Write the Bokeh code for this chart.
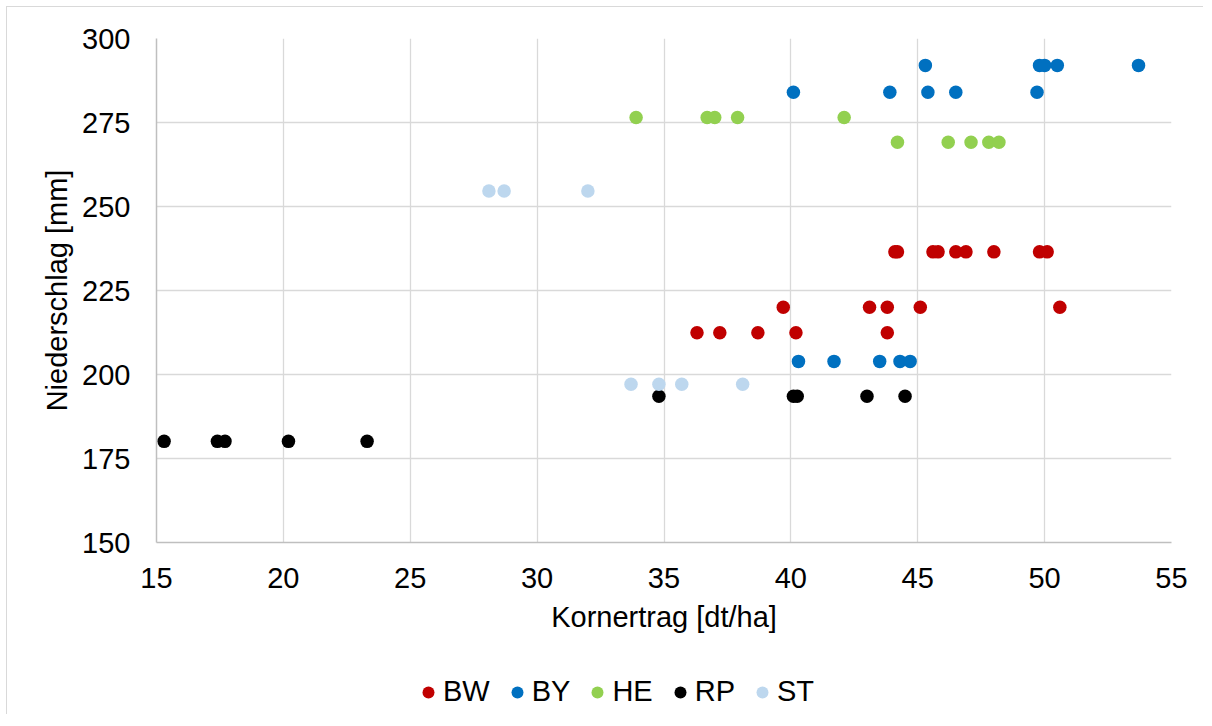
from bokeh.plotting import figure
from bokeh.layouts import column
from bokeh.models import Range1d, FixedTicker, Legend, LegendItem
from bokeh.embed import file_html
from bokeh.resources import INLINE

# ---- data ----
states = ["BW", "BY", "HE", "RP", "ST"]
colors = ["#C00000", "#0070C0", "#92D050", "#000000", "#BDD7EE"]

bw_x = [44.1, 44.2, 45.6, 45.8, 46.5, 46.9, 48.0, 49.8, 50.1,
        39.7, 43.1, 43.8, 45.1, 50.6,
        36.3, 37.2, 38.7, 40.2, 43.8]
bw_y = [236.5, 236.5, 236.5, 236.5, 236.5, 236.5, 236.5, 236.5, 236.5,
        220.0, 220.0, 220.0, 220.0, 220.0,
        212.4, 212.4, 212.4, 212.4, 212.4]

by_x = [45.3, 49.8, 50.0, 50.5, 53.7,
        40.1, 43.9, 45.4, 46.5, 49.7,
        40.3, 41.7, 43.5, 44.3, 44.7]
by_y = [292.0, 292.0, 292.0, 292.0, 292.0,
        284.0, 284.0, 284.0, 284.0, 284.0,
        203.9, 203.9, 203.9, 203.9, 203.9]

he_x = [33.9, 36.7, 37.0, 37.9, 42.1,
        44.2, 46.2, 47.1, 47.8, 48.2]
he_y = [276.5, 276.5, 276.5, 276.5, 276.5,
        269.1, 269.1, 269.1, 269.1, 269.1]

rp_x = [34.8, 40.1, 40.25, 43.0, 44.5,
        15.3, 17.4, 17.7, 20.2, 23.3]
rp_y = [193.5, 193.5, 193.5, 193.5, 193.5,
        180.1, 180.1, 180.1, 180.1, 180.1]

st_x = [28.1, 28.7, 32.0,
        33.7, 34.8, 35.7, 38.1]
st_y = [254.6, 254.6, 254.6,
        197.1, 197.1, 197.1, 197.1]

x_ticks = [15, 20, 25, 30, 35, 40, 45, 50, 55]
y_ticks = [150, 175, 200, 225, 250, 275, 300]
x_title = "Kornertrag [dt/ha]"
y_title = "Niederschlag [mm]"

series_x = [bw_x, by_x, he_x, rp_x, st_x]
series_y = [bw_y, by_y, he_y, rp_y, st_y]

FONT = "Liberation Sans"
FS = "29px"

p = figure(width=1196, height=635, output_backend="svg", toolbar_location=None,
           x_range=Range1d(x_ticks[0], x_ticks[-1]), y_range=Range1d(y_ticks[0], y_ticks[-1]),
           min_border_left=149, min_border_right=32, min_border_top=31, min_border_bottom=100,
           background_fill_color="white", border_fill_color="white")
p.outline_line_color = None

for name, col, xs, ys in zip(states, colors, series_x, series_y):
    p.scatter(xs, ys, size=13.5, color=col, line_color=None)

p.xaxis.ticker = FixedTicker(ticks=x_ticks)
p.yaxis.ticker = FixedTicker(ticks=y_ticks)
for ax in (p.xaxis, p.yaxis):
    ax.major_tick_line_color = None
    ax.minor_tick_line_color = None
    ax.major_tick_out = 0
    ax.major_tick_in = 0
    ax.axis_line_color = "#bfbfbf"
    ax.axis_line_width = 1.5
    ax.major_label_text_font = FONT
    ax.major_label_text_font_size = FS
    ax.major_label_text_color = "#000000"
    ax.axis_label_text_font = FONT
    ax.axis_label_text_font_size = FS
    ax.axis_label_text_font_style = "normal"
    ax.axis_label_text_color = "#000000"

p.xaxis.axis_label = x_title
p.yaxis.axis_label = y_title
p.xaxis.major_label_standoff = 25
p.xaxis.axis_label_standoff = 10
p.yaxis.major_label_standoff = 26
p.yaxis.axis_label_standoff = 6

p.xgrid.grid_line_color = "#d9d9d9"
p.ygrid.grid_line_color = "#d9d9d9"
p.xgrid.grid_line_width = 1.3
p.ygrid.grid_line_width = 1.3

# ---- legend strip below the chart (series drawn out of its view, only the legend shows) ----
lf = figure(width=1196, height=72, output_backend="svg", toolbar_location=None,
            x_axis_location=None, y_axis_location=None,
            min_border=0, min_border_left=0, min_border_right=0,
            min_border_top=0, min_border_bottom=0,
            x_range=Range1d(0, 1), y_range=Range1d(0, 1),
            background_fill_color="white", border_fill_color="white")
lf.outline_line_color = None
lf.xgrid.visible = False
lf.ygrid.visible = False

leg_items = []
for name, col, xs, ys in zip(states, colors, series_x, series_y):
    r = lf.scatter(xs, ys, size=13.5, color=col, line_color=None)
    leg_items.append(LegendItem(label=name, renderers=[r]))

legend = Legend(items=leg_items, orientation="horizontal", location=(257, 6),
                glyph_width=30, glyph_height=30, label_standoff=0, spacing=12,
                padding=0, margin=0,
                label_text_font=FONT, label_text_font_size=FS, label_text_color="#000000",
                border_line_color=None, background_fill_alpha=0)
lf.add_layout(legend, "center")

layout = column(p, lf, spacing=0)
layout.margin = (6, 0, 0, 6)
layout.styles = {"border-left": "1px solid #d9d9d9", "border-top": "1px solid #d9d9d9"}

open("out.html", "w").write(file_html(layout, INLINE))
